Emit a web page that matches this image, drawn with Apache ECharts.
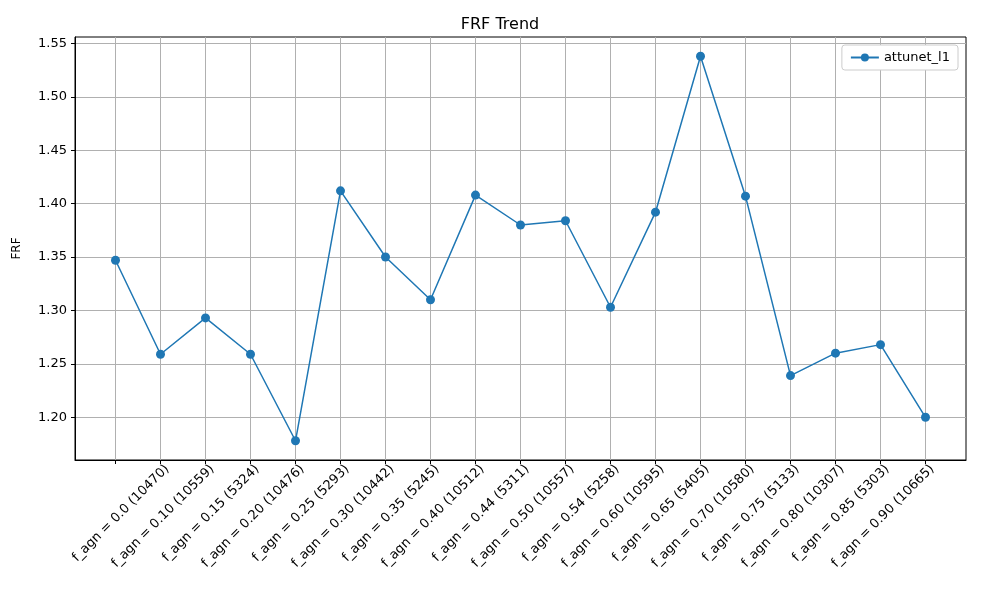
<!DOCTYPE html>
<html>
<head>
<meta charset="utf-8">
<script src="https://cdn.jsdelivr.net/npm/echarts@6/dist/echarts.min.js"></script>
<style>html,body{margin:0;padding:0;background:#fff}#chart{width:1000px;height:600px}</style>
</head>
<body>
<div id="chart"></div>
<script>
var categories = ['f_agn = 0.0 (10470)', 'f_agn = 0.10 (10559)', 'f_agn = 0.15 (5324)', 'f_agn = 0.20 (10476)',
	'f_agn = 0.25 (5293)', 'f_agn = 0.30 (10442)', 'f_agn = 0.35 (5245)', 'f_agn = 0.40 (10512)',
	'f_agn = 0.44 (5311)', 'f_agn = 0.50 (10557)', 'f_agn = 0.54 (5258)', 'f_agn = 0.60 (10595)',
	'f_agn = 0.65 (5405)', 'f_agn = 0.70 (10580)', 'f_agn = 0.75 (5133)', 'f_agn = 0.80 (10307)',
	'f_agn = 0.85 (5303)', 'f_agn = 0.90 (10665)', 'f_agn = 0.95 (5097)'];
var frfValues = [1.347, 1.259, 1.293, 1.259, 1.178, 1.412, 1.350, 1.310, 1.408, 1.380,
	1.384, 1.303, 1.392, 1.538, 1.407, 1.239, 1.260, 1.268, 1.200];
var yTicks = [1.20, 1.25, 1.30, 1.35, 1.40, 1.45, 1.50, 1.55];
var xTicks = categories.map(function(c, i) { return i; });

var chart = echarts.init(document.getElementById('chart'));
var font = 'DejaVu Sans';
var labelShift = 1.15; // label axis offset so rotated labels sit centred under ticks

var option = {
	animation : false,
	title : {
		text : 'FRF Trend',
		left : 'center',
		top : 12,
		textStyle : { fontFamily : font, fontSize : 16, fontWeight : 'normal', color : '#000' }
	},
	legend : {
		right : 42,
		top : 45,
		orient : 'vertical',
		backgroundColor : '#fff',
		borderColor : '#ccc',
		borderWidth : 1,
		borderRadius : 3,
		padding : [6, 8],
		itemWidth : 28,
		itemHeight : 10,
		textStyle : { fontFamily : font, fontSize : 13, color : '#000' },
		data : ['attunet_l1']
	},
	grid : {
		left : 75, right : 34, top : 37, bottom : 140,
		show : true, borderColor : '#000', borderWidth : 1
	},
	xAxis : [{
		type : 'value',
		min : -0.9,
		max : 18.9,
		axisLine : { show : true, onZero : false, lineStyle : { color : '#000' } },
		axisTick : { show : true, inside : false, customValues : xTicks, length : 4, lineStyle : { color : '#000' } },
		axisLabel : { show : false },
		splitLine : { show : true, lineStyle : { color : '#b0b0b0', width : 1 } }
	}, {
		type : 'value',
		position : 'bottom',
		min : -0.9 - labelShift,
		max : 18.9 - labelShift,
		axisLine : { show : false },
		axisTick : { show : false },
		splitLine : { show : false },
		axisLabel : {
			customValues : xTicks,
			showMinLabel : true,
			showMaxLabel : true,
			hideOverlap : false,
			rotate : 45,
			margin : 7,
			fontFamily : font, fontSize : 13, color : '#000',
			formatter : function(v) { return categories[Math.round(v)]; }
		}
	}],
	yAxis : {
		type : 'value',
		min : 1.16,
		max : 1.556,
		name : 'FRF',
		nameLocation : 'middle',
		nameGap : 52,
		nameTextStyle : { fontFamily : font, fontSize : 12, color : '#000' },
		axisLine : { show : true, onZero : false, lineStyle : { color : '#000' } },
		axisTick : { show : true, inside : false, customValues : yTicks, length : 4, lineStyle : { color : '#000' } },
		axisLabel : {
			customValues : yTicks,
			fontFamily : font, fontSize : 13, color : '#000',
			formatter : function(v) { return v.toFixed(2); }
		},
		splitLine : { show : true, lineStyle : { color : '#b0b0b0', width : 1 } }
	},
	series : [{
		name : 'attunet_l1',
		type : 'line',
		xAxisIndex : 0,
		data : frfValues.map(function(v, i) { return [i, v]; }),
		symbol : 'circle',
		symbolSize : 9,
		itemStyle : { color : '#1f77b4' },
		lineStyle : { color : '#1f77b4', width : 1.5 }
	}]
};
chart.setOption(option);
</script>
</body>
</html>
